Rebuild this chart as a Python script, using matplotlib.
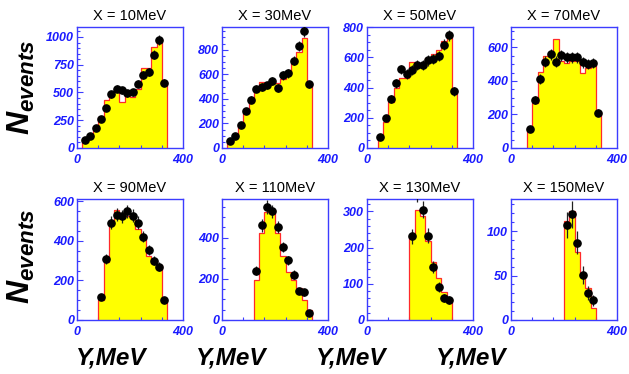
import numpy as np
import matplotlib
matplotlib.use("Agg")
import matplotlib.pyplot as plt
from matplotlib.ticker import MultipleLocator, FixedLocator

plt.rcParams['font.family'] = ['Liberation Sans', 'DejaVu Sans']
plt.rcParams['mathtext.fontset'] = 'custom'
plt.rcParams['mathtext.it'] = 'Liberation Sans:bold:italic'
plt.rcParams['mathtext.rm'] = 'Liberation Sans:bold'

# Energy X of each panel
x_energies = [10, 30, 50, 70, 90, 110, 130, 150]

# Lower edge (MeV) of the first 20-MeV bin in each panel
bin_start = [20, 20, 40, 60, 80, 120, 160, 200]
bin_width = 20

# Simulated spectrum (histogram) per panel
hist_10 = [55, 95, 165, 280, 430, 500, 530, 410, 510, 458, 531, 720, 725, 910, 985, 590]
hist_30 = [41, 105, 195, 283, 380, 462, 536, 525, 536, 530, 564, 608, 696, 784, 894, 531]
hist_50 = [63, 171, 306, 394, 462, 462, 570, 558, 558, 592, 619, 649, 705, 732, 374]
hist_70 = [116, 266, 454, 550, 555, 650, 520, 510, 520, 520, 450, 480, 505, 215]
hist_90 = [100, 295, 500, 555, 525, 525, 515, 460, 415, 325, 305, 280, 100]
hist_110 = [193, 421, 522, 532, 421, 310, 234, 193, 156, 96, 47]
hist_130 = [228, 303, 288, 218, 161, 115, 76, 59]
hist_150 = [111, 122, 76, 51, 36, 14]

# Measured counts per panel
data_10 = [75, 105, 176, 258, 358, 485, 533, 518, 494, 503, 579, 661, 685, 839, 972, 590]
data_30 = [55, 96, 190, 303, 393, 484, 498, 509, 545, 490, 591, 608, 710, 828, 949, 517]
data_50 = [74, 198, 322, 428, 520, 489, 514, 547, 547, 579, 586, 608, 682, 745, 374]
data_70 = [112, 288, 412, 516, 560, 516, 552, 542, 542, 542, 512, 500, 506, 210]
data_90 = [117, 307, 493, 532, 525, 549, 527, 493, 422, 354, 300, 270, 103]
data_110 = [239, 459, 548, 527, 450, 354, 289, 220, 141, 135, 36]
data_130 = [231, 352, 305, 233, 147, 92, 62, 55]
data_150 = [107, 119, 87, 51, 30, 22]

hists = [hist_10, hist_30, hist_50, hist_70, hist_90, hist_110, hist_130, hist_150]
datas = [data_10, data_30, data_50, data_70, data_90, data_110, data_130, data_150]

# Axis ranges and tick steps
y_max = [1090, 985, 800, 722, 612, 587, 334, 136]
y_step = [250, 200, 200, 200, 200, 200, 100, 50]
y_minor = [50, 50, 50, 50, 50, 50, 20, 10]
x_range = (0, 400)
x_labels = ['0', '400']
x_minor = [80, 160, 240, 320]

BLUE_FRAME = '#3c3cff'
BLUE_TEXT = '#1a1aff'
RED = '#ff2a2a'
YELLOW = '#ffff00'

W, H = 629, 374
fig = plt.figure(figsize=(W / 100, H / 100), dpi=100)

col_left = [77, 222, 367, 511]
row_top = [27, 199]
ax_w, ax_h = 106, 121

for i in range(8):
    r, c = divmod(i, 4)
    left = col_left[c] / W
    bottom = 1 - (row_top[r] + ax_h) / H
    ax = fig.add_axes([left, bottom, ax_w / W, ax_h / H])

    counts = np.array(hists[i], dtype=float)
    pts = np.array(datas[i], dtype=float)
    edges = bin_start[i] + bin_width * np.arange(len(counts) + 1)
    centers = 0.5 * (edges[:-1] + edges[1:])

    ax.stairs(counts, edges, fill=True, color=YELLOW, baseline=0, zorder=1)
    ax.stairs(counts, edges, fill=False, color=RED, baseline=0, lw=0.9, zorder=2)

    err = 1.4 * np.sqrt(pts)
    ax.errorbar(centers, pts, yerr=err, fmt='o', color='black', ms=5.2,
                elinewidth=0.9, ecolor='#202020', capsize=0, zorder=3)

    ax.set_xlim(*x_range)
    ax.set_ylim(0, y_max[i])

    yt = np.arange(0, y_max[i] + 1e-9, y_step[i])
    ax.set_yticks(yt, [f'{int(v)}' for v in yt], fontsize=9, fontweight='bold',
                  fontstyle='italic', color=BLUE_TEXT)
    ax.yaxis.set_minor_locator(MultipleLocator(y_minor[i]))
    ax.set_xticks(list(x_range), x_labels, fontsize=9, fontweight='bold',
                  fontstyle='italic', color=BLUE_TEXT)
    ax.xaxis.set_minor_locator(FixedLocator(x_minor))

    ax.tick_params(axis='both', which='major', direction='in', length=4,
                   width=0.8, color=BLUE_FRAME, pad=2)
    ax.tick_params(axis='both', which='minor', direction='in', length=2,
                   width=0.8, color=BLUE_FRAME)
    ax.tick_params(axis='x', which='major', length=0, pad=4)

    for s in ax.spines.values():
        s.set_color(BLUE_FRAME)
        s.set_linewidth(1.0)

    ax.set_title(f'X = {x_energies[i]}MeV', fontsize=10.5, pad=5)

# Row labels
for yc in (87, 256):
    fig.text(21 / W, 1 - yc / H, r'$N_{events}$', rotation=90, fontsize=23,
             ha='center', va='center')

# Column labels
for xc in (111, 231, 351, 471):
    fig.text(xc / W, 1 - 358 / H, 'Y,MeV', fontsize=17.5, fontweight='bold',
             fontstyle='italic', ha='center', va='center')

fig.savefig('out.png', dpi=100)
